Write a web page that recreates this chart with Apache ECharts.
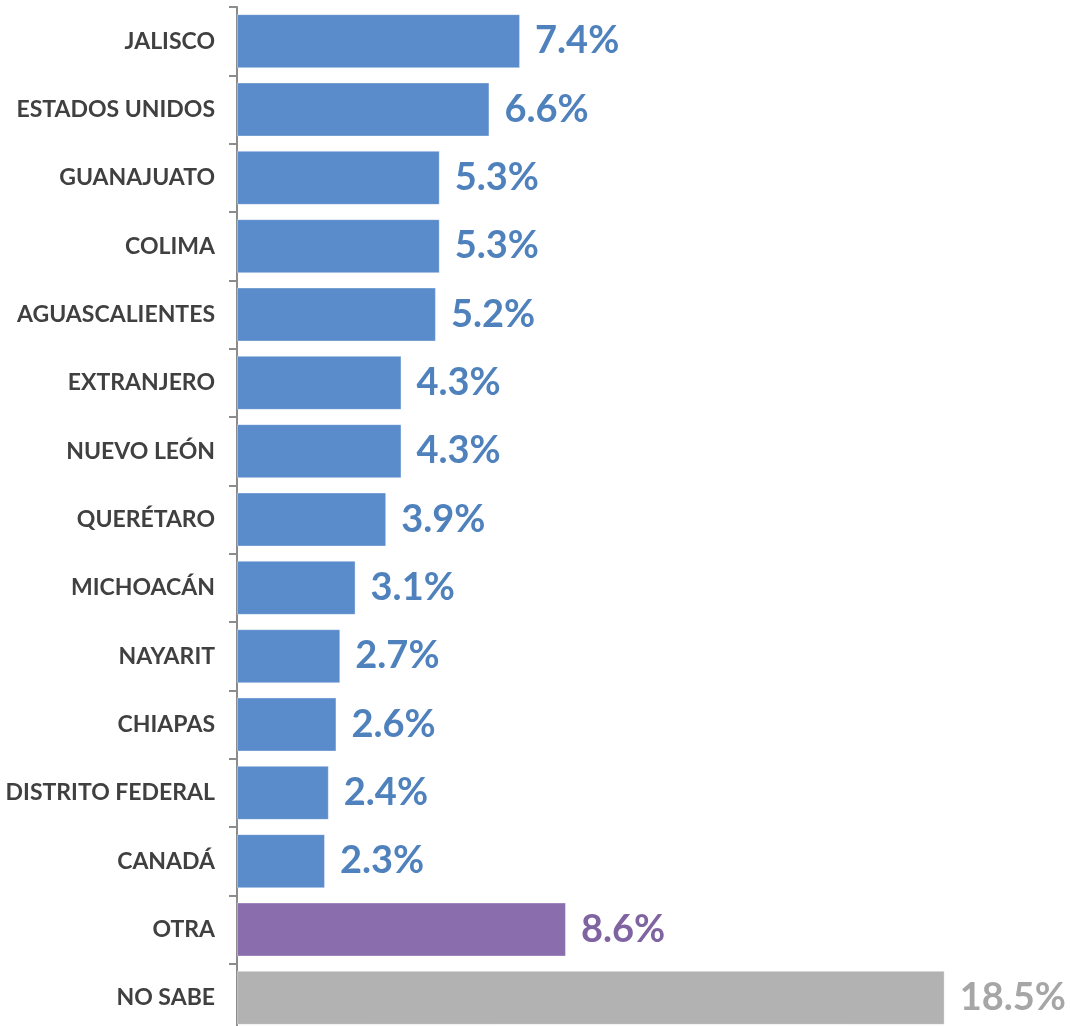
<!DOCTYPE html>
<html>
<head>
<meta charset="utf-8">
<script src="https://cdn.jsdelivr.net/npm/echarts@6/dist/echarts.min.js"></script>
<style>html,body{margin:0;padding:0;background:#fff;}#c{width:1070px;height:1026px;}</style>
</head>
<body>
<div id="c"></div>
<script>
const categories = ["JALISCO","ESTADOS UNIDOS","GUANAJUATO","COLIMA","AGUASCALIENTES","EXTRANJERO","NUEVO LEÓN","QUERÉTARO","MICHOACÁN","NAYARIT","CHIAPAS","DISTRITO FEDERAL","CANADÁ","OTRA","NO SABE"];
const values = [7.4,6.6,5.3,5.3,5.2,4.3,4.3,3.9,3.1,2.7,2.6,2.4,2.3,8.6,18.5];
const barColors = ["#5A8BCB","#5A8BCB","#5A8BCB","#5A8BCB","#5A8BCB","#5A8BCB","#5A8BCB","#5A8BCB","#5A8BCB","#5A8BCB","#5A8BCB","#5A8BCB","#5A8BCB","#8A6DAC","#B2B2B2"];
const labelColors = ["#4F81BD","#4F81BD","#4F81BD","#4F81BD","#4F81BD","#4F81BD","#4F81BD","#4F81BD","#4F81BD","#4F81BD","#4F81BD","#4F81BD","#4F81BD","#8064A2","#A6A6A6"];

const chart = echarts.init(document.getElementById('c'));
chart.setOption({
  animation: false,
  grid: {left: 237, width: 765, top: 7, height: 1025, containLabel: false, outerBoundsMode: 'none'},
  xAxis: {type: 'value', min: 0, max: 20, show: false},
  yAxis: {
    type: 'category', data: categories, inverse: true,
    axisLine: {show: true, lineStyle: {color: '#8c8c8c', width: 2}},
    axisTick: {show: true, length: 8, lineStyle: {color: '#8c8c8c', width: 2}},
    axisLabel: {margin: 22, color: '#404040', fontFamily: 'Lato', fontWeight: 'bold', fontSize: 23}
  },
  series: [{
    type: 'bar', barWidth: 54,
    data: values.map((v, i) => ({
      value: v,
      itemStyle: {color: barColors[i], borderColor: 'rgba(255,255,255,0.35)', borderWidth: 1},
      label: {color: labelColors[i]}
    })),
    label: {show: true, position: 'right', distance: 15, fontFamily: 'Lato', fontWeight: 'bold', fontSize: 38,
      formatter: p => p.value.toFixed(1) + '%'}
  }]
});
</script>
</body>
</html>
